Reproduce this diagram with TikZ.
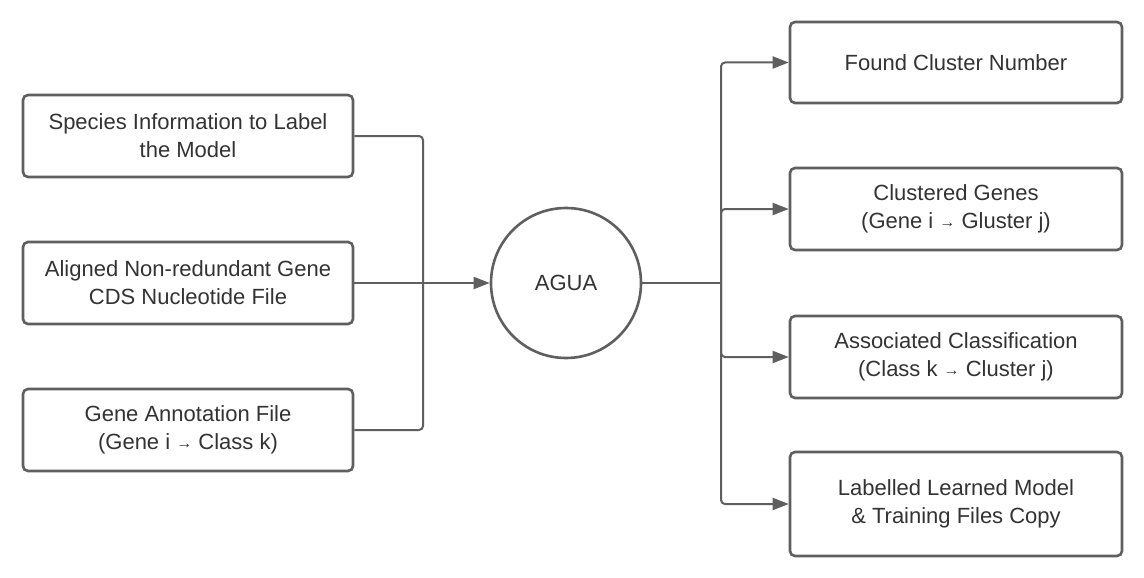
\documentclass[tikz,border=0pt]{standalone}
\usepackage{fontspec}
\setmainfont{Liberation Sans}
\usetikzlibrary{arrows.meta}
\definecolor{linegray}{HTML}{5F5F5F}
\definecolor{textgray}{HTML}{333333}
\newcommand{\ra}{\raisebox{1.5pt}{\fontsize{16}{16}\selectfont→}}
\tikzset{
  box/.style={draw=linegray,line width=2.6pt,rounded corners=5pt,fill=white,
    minimum width=330pt,minimum height=82pt,align=center,text=textgray,
    font=\fontsize{22}{28}\selectfont,inner sep=0pt},
  conn/.style={draw=linegray,line width=2pt,rounded corners=4pt},
  arr/.style={conn,-{Triangle[length=16pt,width=12pt]}}
}
\begin{document}
\begin{tikzpicture}[x=1pt,y=-1pt]
 \useasboundingbox[fill=white](0,0) rectangle (1144,578);
 % inputs
 \node[box] (spec) at (188,136) {Species Information to Label\\the Model};
 \node[box] (cds) at (188,283) {Aligned Non-redundant Gene\\CDS Nucleotide File};
 \node[box] (annot) at (188,430) {Gene Annotation File\\(Gene i \ra{} Class k)};
 % model
 \node[circle,draw=linegray,line width=2.6pt,minimum size=150pt,inner sep=0pt,
   text=textgray,font=\fontsize{22}{28}\selectfont] (agua) at (566,283) {AGUA};
 % outputs
 \node[box,minimum width=332pt,minimum height=81pt] (found) at (956,62.5) {Found Cluster Number};
 \node[box,minimum width=332pt] (genes) at (956,209) {Clustered Genes\\(Gene i \ra{} Gluster j)};
 \node[box,minimum width=332pt] (assoc) at (956,357) {Associated Classification\\(Class k \ra{} Cluster j)};
 \node[box,minimum width=332pt,minimum height=104pt] (model) at (956,504) {Labelled Learned Model\\\& Training Files Copy};
 % junctions
 \coordinate (jin) at (423,283);
 \coordinate (jout) at (721,283);
 \draw[conn] (spec.east) -| (jin);
 \draw[conn] (annot.east) -| (jin);
 \draw[conn] (cds.east) -- (jin);
 \draw[arr] (jin) -- (agua.west);
 \draw[conn] (agua.east) -- (jout);
 \draw[arr] (jout) |- (found.west);
 \draw[arr] (jout) |- (genes.west);
 \draw[arr] (jout) |- (assoc.west);
 \draw[arr] (jout) |- (model.west);
\end{tikzpicture}
\end{document}
